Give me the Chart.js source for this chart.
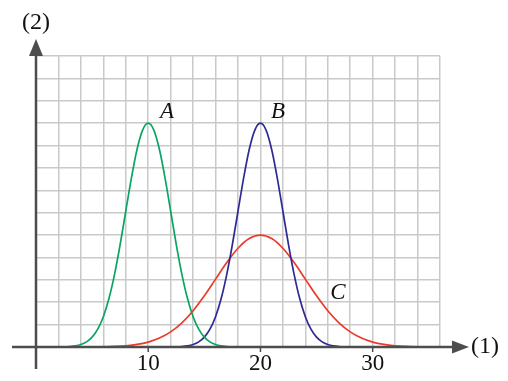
<!DOCTYPE html>
<html>
<head>
<meta charset="utf-8">
<script src="https://cdn.jsdelivr.net/npm/chart.js@4"></script>
<style>
  html, body { margin: 0; padding: 0; background: #fff; }
  #wrap { width: 508px; height: 381px; }
</style>
</head>
<body>
<div id="wrap"><canvas id="curves" width="508" height="381"></canvas></div>
<script>
// curve A (x 2..18), B (x 12..28), C (x 4..36)
const aX = [2,2.5,3,3.5,4,4.5,5,5.5,6,6.5,7,7.5,8,8.5,9,9.5,10,10.5,11,11.5,12,12.5,13,13.5,14,14.5,15,15.5,16,16.5,17,17.5,18];
const aY = [0.003,0.009,0.022,0.051,0.111,0.228,0.439,0.796,1.353,2.163,3.247,4.578,6.065,7.548,8.825,9.692,10,9.692,8.825,7.548,6.065,4.578,3.247,2.163,1.353,0.796,0.439,0.228,0.111,0.051,0.022,0.009,0.003];
const bX = [12,12.5,13,13.5,14,14.5,15,15.5,16,16.5,17,17.5,18,18.5,19,19.5,20,20.5,21,21.5,22,22.5,23,23.5,24,24.5,25,25.5,26,26.5,27,27.5,28];
const bY = [0.003,0.009,0.022,0.051,0.111,0.228,0.439,0.796,1.353,2.163,3.247,4.578,6.065,7.548,8.825,9.692,10,9.692,8.825,7.548,6.065,4.578,3.247,2.163,1.353,0.796,0.439,0.228,0.111,0.051,0.022,0.009,0.003];
const cX = [4,5,6,7,8,9,10,11,12,13,14,15,16,17,18,19,20,21,22,23,24,25,26,27,28,29,30,31,32,33,34,35,36];
const cY = [0.002,0.004,0.011,0.025,0.056,0.114,0.220,0.398,0.677,1.082,1.623,2.289,3.033,3.774,4.412,4.846,5,4.846,4.412,3.774,3.033,2.289,1.623,1.082,0.677,0.398,0.220,0.114,0.056,0.025,0.011,0.004,0.002];
const xTickLabels = [10, 20, 30];
const curveNames = ['A', 'B', 'C'];

const toPts = (xs, ys) => xs.map((x, i) => ({ x: x, y: ys[i] }));

const axisColor = '#4d4d4d';
const serif = '"Liberation Serif", "DejaVu Serif", serif';

const decor = {
  id: 'decor',
  afterDraw(chart) {
    const c = chart.ctx;
    const xs = chart.scales.x, ys = chart.scales.y;
    const x0 = xs.getPixelForValue(0), y0 = ys.getPixelForValue(0);
    c.save();
    c.strokeStyle = axisColor;
    c.fillStyle = axisColor;
    c.lineWidth = 2.5;
    // x axis
    c.beginPath();
    c.moveTo(12, y0);
    c.lineTo(455, y0);
    c.stroke();
    c.beginPath();
    c.moveTo(469, y0);
    c.lineTo(452, y0 - 6.5);
    c.lineTo(452, y0 + 6.5);
    c.closePath();
    c.fill();
    // y axis
    c.beginPath();
    c.moveTo(x0, 369);
    c.lineTo(x0, 54);
    c.stroke();
    c.beginPath();
    c.moveTo(x0, 39);
    c.lineTo(x0 - 7, 56);
    c.lineTo(x0 + 7, 56);
    c.closePath();
    c.fill();
    // ticks + labels
    c.lineWidth = 1.5;
    c.font = '23px ' + serif;
    c.textAlign = 'center';
    c.textBaseline = 'middle';
    c.fillStyle = '#111';
    xTickLabels.forEach(v => {
      const px = xs.getPixelForValue(v);
      c.beginPath();
      c.moveTo(px, y0);
      c.lineTo(px, y0 + 5);
      c.stroke();
      c.fillText(String(v), px, 364);
    });
    c.font = '24px ' + serif;
    c.textAlign = 'left';
    c.fillText('(1)', 471, y0);
    c.textAlign = 'center';
    c.fillText('(2)', x0, 23);
    // curve names
    c.font = 'italic 23px ' + serif;
    c.fillText(curveNames[0], 167, 112);
    c.fillText(curveNames[1], 278, 112);
    c.fillText(curveNames[2], 338, 293);
    c.restore();
  }
};

new Chart(document.getElementById('curves'), {
  type: 'line',
  data: {
    datasets: [
      { label: 'A', data: toPts(aX, aY), borderColor: '#0aa564', borderWidth: 1.7, pointRadius: 0, tension: 0.4, cubicInterpolationMode: 'monotone', fill: false },
      { label: 'B', data: toPts(bX, bY), borderColor: '#2e2a94', borderWidth: 1.7, pointRadius: 0, tension: 0.4, cubicInterpolationMode: 'monotone', fill: false },
      { label: 'C', data: toPts(cX, cY), borderColor: '#ec3a2a', borderWidth: 1.7, pointRadius: 0, tension: 0.4, cubicInterpolationMode: 'monotone', fill: false }
    ]
  },
  options: {
    responsive: false,
    animation: false,
    layout: { padding: { left: 36, right: 68, top: 56, bottom: 34 } },
    plugins: { legend: { display: false }, tooltip: { enabled: false } },
    scales: {
      x: {
        type: 'linear', min: 0, max: 36,
        ticks: { display: false, stepSize: 2 },
        grid: { color: '#c9c9c9', lineWidth: 1.5, drawTicks: false },
        border: { display: false }
      },
      y: {
        min: 0, max: 13,
        ticks: { display: false, stepSize: 1 },
        grid: { color: '#c9c9c9', lineWidth: 1.5, drawTicks: false },
        border: { display: false }
      }
    }
  },
  plugins: [decor]
});
</script>
</body>
</html>
